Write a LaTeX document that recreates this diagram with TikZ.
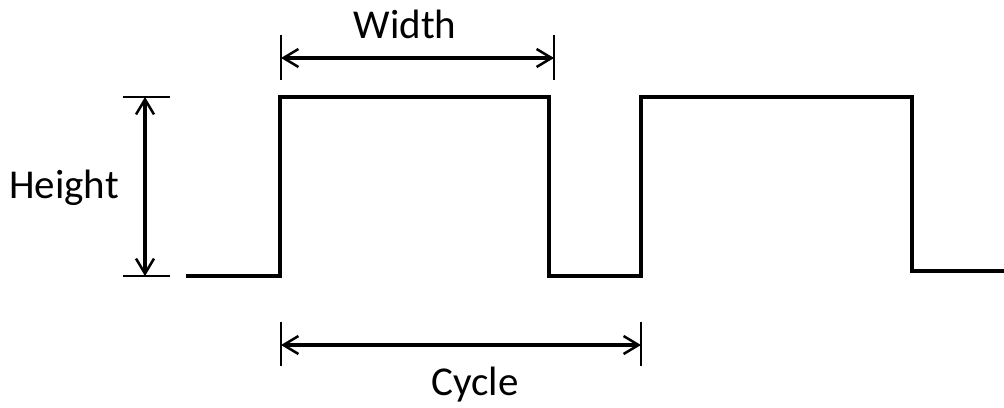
\documentclass[tikz,border=0pt]{standalone}
\usepackage{fontspec}
\setmainfont{Carlito}
\usetikzlibrary{arrows.meta}
\begin{document}
\begin{tikzpicture}[x=1pt,y=-1pt,
  wave/.style={line width=4.5pt,line join=miter},
  tick/.style={line width=2.5pt},
  dim/.style={line width=3.8pt,{Straight Barb[length=15pt,width=18pt,line width=2.5pt]}-{Straight Barb[length=15pt,width=18pt,line width=2.5pt]}},
  lbl/.style={font=\fontsize{41}{46}\selectfont,inner sep=0pt}]
\useasboundingbox (0,0) rectangle (1004,407);
% waveform
\coordinate (w0) at (186,276);
\coordinate (w1) at (280,276);
\coordinate (w2) at (280,97);
\coordinate (w3) at (549,97);
\coordinate (w4) at (549,276);
\coordinate (w5) at (641,276);
\coordinate (w6) at (641,97);
\coordinate (w7) at (912,97);
\coordinate (w8) at (912,271);
\coordinate (w9) at (1004,271);
\draw[wave] (w0) -- (w1) -- (w2) -- (w3) -- (w4) -- (w5) -- (w6) -- (w7) -- (w8) -- (w9);
% height
\coordinate (ht1) at (123,97);  \coordinate (ht2) at (170,97);
\coordinate (hb1) at (123,276); \coordinate (hb2) at (170,276);
\coordinate (ha) at (145,97);   \coordinate (hb) at (145,276);
\draw[tick] (ht1) -- (ht2);
\draw[tick] (hb1) -- (hb2);
\draw[dim] (ha) -- (hb);
\node[lbl] (height) at (64,188) {Height};
% width
\coordinate (wl1) at (281,35); \coordinate (wl2) at (281,80);
\coordinate (wr1) at (554,35); \coordinate (wr2) at (554,80);
\coordinate (wa) at (281,58);  \coordinate (wb) at (554,58);
\draw[tick] (wl1) -- (wl2);
\draw[tick] (wr1) -- (wr2);
\draw[dim] (wa) -- (wb);
\node[lbl] (width) at (405,24) {Width};
% cycle
\coordinate (cl1) at (281,322); \coordinate (cl2) at (281,366);
\coordinate (cr1) at (641,322); \coordinate (cr2) at (641,366);
\coordinate (ca) at (281,345);  \coordinate (cb) at (641,345);
\draw[tick] (cl1) -- (cl2);
\draw[tick] (cr1) -- (cr2);
\draw[dim] (ca) -- (cb);
\node[lbl] (cycle) at (475,385) {Cycle};
\end{tikzpicture}
\end{document}
